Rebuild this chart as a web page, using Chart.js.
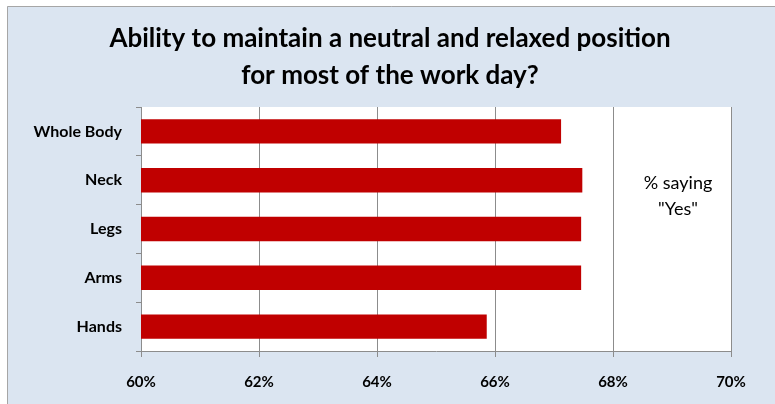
<!DOCTYPE html>
<html>
<head>
<meta charset="utf-8">
<script src="https://cdn.jsdelivr.net/npm/chart.js@4.4.1/dist/chart.umd.min.js"></script>
<style>
  html, body { margin: 0; padding: 0; background: #fff; }
  canvas { display: block; }
</style>
</head>
<body>
<canvas id="grafico" width="775" height="404"></canvas>
<script>
// datos
const categorias = ['Whole Body', 'Neck', 'Legs', 'Arms', 'Hands'];
const valores = [67.12, 67.48, 67.46, 67.46, 65.86];
const tituloLineas = ['Ability to maintain a neutral and relaxed position', 'for most of the work day?'];
const notaLineas = ['% saying', '"Yes"'];
const ejeMin = 60;
const ejeMax = 70;
const ejePaso = 2;

const gris = '#8c8c8c';

// fondo azul claro con borde y area blanca
const fondoPlugin = {
    id: 'fondo',
    beforeDraw(chart) {
        const ctx = chart.ctx;
        const a = chart.chartArea;
        ctx.save();
        ctx.fillStyle = '#ffffff';
        ctx.fillRect(0, 0, chart.width, chart.height);
        ctx.fillStyle = '#dbe5f1';
        ctx.fillRect(7, 6, chart.width - 7, chart.height - 6);
        ctx.strokeStyle = '#a6a6a6';
        ctx.lineWidth = 1;
        ctx.beginPath();
        ctx.moveTo(7.5, chart.height);
        ctx.lineTo(7.5, 6.5);
        ctx.lineTo(chart.width, 6.5);
        ctx.stroke();
        ctx.fillStyle = '#ffffff';
        ctx.fillRect(a.left, a.top, a.right - a.left, a.bottom - a.top);
        ctx.restore();
    }
};

// titulo de dos lineas y texto "% saying Yes"
const textosPlugin = {
    id: 'textos',
    afterDraw(chart) {
        const ctx = chart.ctx;
        const a = chart.chartArea;
        ctx.save();
        ctx.fillStyle = '#000';
        ctx.textAlign = 'center';
        ctx.textBaseline = 'alphabetic';
        ctx.font = 'bold 26px Lato';
        tituloLineas.forEach((t, i) => {
            ctx.fillText(t, 390, 47 + i * 37);
        });
        ctx.font = '18px Lato';
        notaLineas.forEach((t, i) => {
            ctx.fillText(t, a.right - 53, a.top + 82 + i * 26);
        });
        ctx.restore();
    }
};

let barChartInstance = null;
function GraficoBarras(canvas) {
    if (barChartInstance !== null) {
        barChartInstance.destroy();
    }
    barChartInstance = new Chart(canvas, {
        type: 'bar',
        data: {
            labels: categorias,
            datasets: [{
                label: '% saying "Yes"',
                data: valores,
                backgroundColor: '#c00000',
                borderWidth: 0,
                barPercentage: 0.5,
                categoryPercentage: 1.0
            }]
        },
        options: {
            indexAxis: 'y',
            responsive: false,
            animation: false,
            devicePixelRatio: 1,
            layout: {
                padding: { top: 107, left: 0, right: 44, bottom: 0 }
            },
            plugins: {
                legend: { display: false },
                tooltip: { enabled: false },
                title: { display: false }
            },
            scales: {
                x: {
                    min: ejeMin,
                    max: ejeMax,
                    afterFit(scale) { scale.height = 53; },
                    ticks: {
                        stepSize: ejePaso,
                        padding: 16,
                        color: '#000',
                        font: { family: 'Lato', size: 15, weight: 'bold' },
                        callback: v => v + '%'
                    },
                    grid: { color: gris, tickLength: 6 },
                    border: { color: gris }
                },
                y: {
                    afterFit(scale) { scale.width = 141; },
                    ticks: {
                        padding: 14,
                        color: '#000',
                        font: { family: 'Lato', size: 16, weight: 'bold' }
                    },
                    grid: { drawOnChartArea: false, tickLength: 5, color: gris, offset: true },
                    border: { color: gris }
                }
            }
        },
        plugins: [fondoPlugin, textosPlugin]
    });
}

GraficoBarras(document.getElementById('grafico'));
</script>
</body>
</html>
